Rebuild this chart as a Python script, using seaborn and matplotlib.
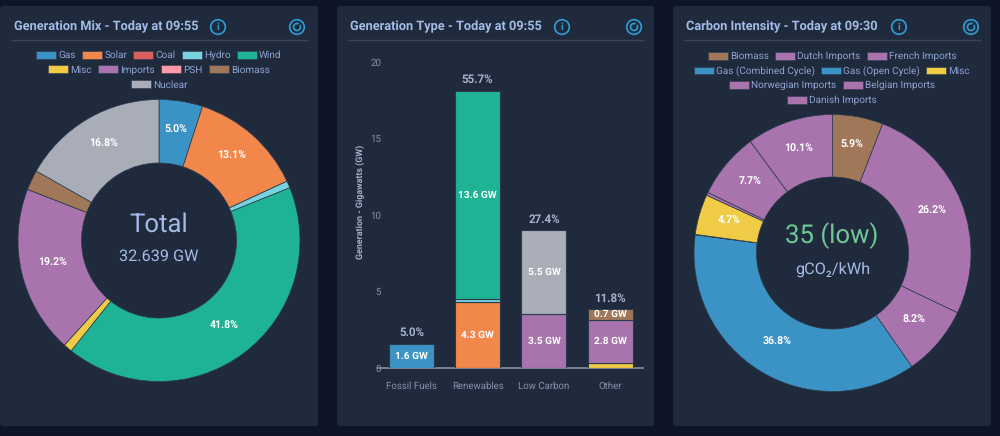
import matplotlib
matplotlib.use("Agg")
import matplotlib.pyplot as plt
from matplotlib.patches import Circle, Arc, FancyBboxPatch, Patch, Polygon
import seaborn as sns

# Source colours shared by the three panels
GAS = "#3b92c4"
SOLAR = "#f2874b"
COAL = "#d95f5f"
HYDRO = "#78d3e0"
WIND = "#1fb395"
MISC = "#f0cb45"
IMPORTS = "#a974ae"
PSH = "#ff99a8"
BIOMASS = "#a07759"
NUCLEAR = "#a8adb8"

PAGE = "#0e1529"
PANEL = "#1f2a3c"
RULE = "#3a4658"
TITLE = "#a3bbe6"
LEGEND_TEXT = "#8fa3d2"
TICK_TEXT = "#8792ad"
ICON = "#2d9fd6"
EDGE = "#2c3a4c"

# Generation mix
mix_labels = ["Gas", "Solar", "Coal", "Hydro", "Wind", "Misc", "Imports", "PSH", "Biomass", "Nuclear"]
mix_share = [5.0, 13.1, 0.0, 0.8, 41.8, 1.0, 19.2, 0.0, 2.3, 16.8]
mix_colors = [GAS, SOLAR, COAL, HYDRO, WIND, MISC, IMPORTS, PSH, BIOMASS, NUCLEAR]
mix_legend_rows = [5, 4, 1]

# Generation type, one list per stacked segment
type_names = ["Fossil Fuels", "Renewables", "Low Carbon", "Other"]
type_share = [5.0, 55.7, 27.4, 11.8]
type_segments = [
    ("Fossil Fuels", 1.6, GAS, True),
    ("Renewables", 4.3, SOLAR, True),
    ("Renewables", 0.2, HYDRO, False),
    ("Renewables", 13.6, WIND, True),
    ("Low Carbon", 3.5, IMPORTS, True),
    ("Low Carbon", 5.5, NUCLEAR, True),
    ("Other", 0.35, MISC, False),
    ("Other", 2.8, IMPORTS, True),
    ("Other", 0.7, BIOMASS, True),
]

# Carbon intensity
carbon_labels = ["Biomass", "Dutch Imports", "French Imports", "Gas (Combined Cycle)", "Gas (Open Cycle)",
                 "Misc", "Norwegian Imports", "Belgian Imports", "Danish Imports"]
carbon_share = [5.9, 26.2, 8.2, 36.8, 0.05, 4.7, 0.35, 7.7, 10.1]
carbon_colors = [BIOMASS, IMPORTS, IMPORTS, GAS, GAS, MISC, IMPORTS, IMPORTS, IMPORTS]
carbon_legend_rows = [3, 3, 2, 1]

sns.set_theme(style="dark")
plt.rcParams["font.family"] = ["Roboto", "DejaVu Sans"]
plt.rcParams["text.hinting"] = "no_hinting"
plt.rcParams["text.hinting_factor"] = 8

W, H = 1000, 436
fig = plt.figure(figsize=(W / 100, H / 100), dpi=100, facecolor=PAGE)


def px_axes(left, top, right, bottom):
    """Axes placed by pixel box, with y counted from the top of the figure."""
    return fig.add_axes([left / W, 1 - bottom / H, (right - left) / W, (bottom - top) / H])


# Layer holding the cards, headers and icons, addressed in pixels
bg = fig.add_axes([0, 0, 1, 1], zorder=0)
bg.set_xlim(0, W)
bg.set_ylim(H, 0)
bg.axis("off")


def refresh_icon(cx, cy):
    bg.add_patch(Circle((cx, cy), 7.3, fill=False, ec=ICON, lw=1.2))
    bg.add_patch(Arc((cx, cy), 7.0, 7.0, theta1=-35, theta2=275, ec=ICON, lw=1.2))
    bg.add_patch(Polygon([(cx + 0.3, cy - 4.9), (cx + 2.3, cy - 3.5), (cx + 0.3, cy - 2.1)], fc=ICON, ec="none"))


def card(left, right, title, info_x, refresh_x):
    bg.add_patch(FancyBboxPatch((left + 3, 9), right - left - 6, 414,
                                boxstyle="round,pad=3,rounding_size=3", fc=PANEL, ec="none"))
    bg.text(left + 13.5, 27, title, color=TITLE, fontsize=9.2, fontweight="bold", va="center", ha="left")
    bg.plot([left + 10.5, right - 10.5], [40, 40], color=RULE, lw=1, solid_capstyle="butt")
    bg.add_patch(Circle((info_x, 27), 7.3, fill=False, ec=ICON, lw=1.2))
    bg.text(info_x, 27.2, "i", color=ICON, fontsize=7.5, fontweight="bold", ha="center", va="center")
    refresh_icon(refresh_x, 27)


card(0, 318, "Generation Mix - Today at 09:55", 218, 297)
card(337, 654, "Generation Type - Today at 09:55", 562, 634)
card(673, 991, "Carbon Intensity - Today at 09:30", 899, 971)


def legend_rows(labels, colors, row_sizes, cx, first_y, step):
    start = 0
    for i, size in enumerate(row_sizes):
        handles = [Patch(fc=c, ec="#2c3a4c", lw=0.4, label=l)
                   for l, c in zip(labels[start:start + size], colors[start:start + size])]
        legend = fig.legend(handles=handles, loc="center", ncols=size, frameon=False,
                            bbox_to_anchor=(cx / W, 1 - (first_y + i * step) / H),
                            fontsize=7.2, labelcolor=LEGEND_TEXT, handlelength=2.0, handleheight=0.85,
                            handletextpad=0.22, columnspacing=0.62, borderpad=0, borderaxespad=0)
        legend.set_zorder(5)
        start += size


def donut(cx, cy, radius, inner, shares, colors, min_label):
    ax = px_axes(cx - radius - 1, cy - radius - 1, cx + radius + 1, cy + radius + 1)
    wedges, _, autotexts = ax.pie(
        shares, colors=colors, startangle=90, counterclock=False, radius=radius / (radius + 1),
        wedgeprops=dict(width=(radius - inner) / (radius + 1), edgecolor=EDGE, linewidth=0.5),
        autopct=lambda p: f"{p:.1f}%" if p >= min_label else "",
        pctdistance=((radius + inner) / 2) / radius,
        textprops=dict(color="white", fontsize=7.6, fontweight="bold"),
    )
    # Nudge the percentages up so they sit optically centred in the ring
    for label in autotexts:
        x, y = label.get_position()
        label.set_position((x, y + 2.5 / (radius + 1)))
    ax.set_xlim(-1, 1)
    ax.set_ylim(-1, 1)
    ax.patch.set_alpha(0)
    return ax


# Generation mix donut
legend_rows(mix_labels, mix_colors, mix_legend_rows, 159, 55.5, 14.6)
donut(159, 240.5, 141, 77.5, mix_share, mix_colors, 3)
bg.text(159, 225, "Total", color=TITLE, fontsize=18.5, ha="center", va="center")
bg.text(159, 256, "32.639 GW", color=TITLE, fontsize=11.7, ha="center", va="center")

# Generation type stacked bars
bar_ax = px_axes(378.3, 62, 643.3, 368)
tops = {name: 0.0 for name in type_names}
for name, value, color, labelled in type_segments:
    sns.barplot(x=[name], y=[value], order=type_names, color=color, bottom=tops[name], width=0.68,
                saturation=1, edgecolor=EDGE, linewidth=0.8, ax=bar_ax, zorder=3)
    if labelled:
        bars = bar_ax.containers[-1]
        bar_ax.bar_label(bars, labels=[f"{value:g} GW"] * len(bars), label_type="center",
                         color="white", fontsize=7.3, fontweight="bold", zorder=4)
    tops[name] += value

for i, (name, share) in enumerate(zip(type_names, type_share)):
    bar_ax.annotate(f"{share:.1f}%", (i, tops[name]), xytext=(0, 3.8), textcoords="offset points",
                    ha="center", va="bottom", color="#a6b2cc", fontsize=8.3, fontweight="bold")

bar_ax.set_xlim(-0.5, 3.5)
bar_ax.set_ylim(0, 20)
bar_ax.set_yticks([0, 5, 10, 15, 20])
bar_ax.set_facecolor("none")
bar_ax.grid(False)
for side in ("top", "right", "left"):
    bar_ax.spines[side].set_visible(False)
bar_ax.spines["bottom"].set_color("#8a8f98")
bar_ax.spines["bottom"].set_linewidth(1.2)
bar_ax.tick_params(axis="y", length=0, pad=-2, labelsize=7, labelcolor=TICK_TEXT)
bar_ax.tick_params(axis="x", length=0, pad=9.5, labelsize=6.9, labelcolor=TICK_TEXT)
bar_ax.set_xlabel("")
bar_ax.set_ylabel("Generation - Gigawatts (GW)", color="#a6b2cc", fontsize=6.4, fontweight="bold")
bar_ax.yaxis.set_label_coords((365.3 - 378.3) / 265, (368 - 202) / 306)

# Carbon intensity donut
legend_rows(carbon_labels, carbon_colors, carbon_legend_rows, 832, 56.5, 14.6)
donut(832.5, 253, 138.5, 76, carbon_share, carbon_colors, 3)
bg.text(832, 236, "35 (low)", color="#6fc795", fontsize=18.5, ha="center", va="center")
bg.text(832.5, 269, "gCO₂/kWh", color=TITLE, fontsize=11.7, ha="center", va="center")

fig.savefig("out.png", dpi=100, facecolor=PAGE)
